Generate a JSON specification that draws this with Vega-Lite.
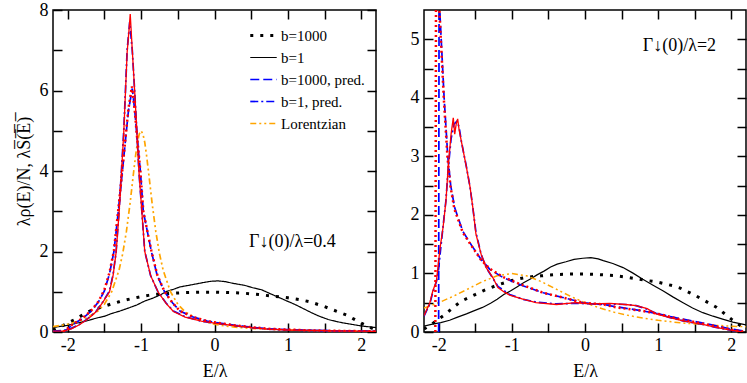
{
 "$schema": "https://vega.github.io/schema/vega-lite/v6.json",
 "padding": {"left": 14, "top": 0, "right": 4, "bottom": 0},
 "spacing": 29,
 "config": {
  "view": {"stroke": "black", "strokeWidth": 1.5},
  "axis": {"domain": false, "grid": false, "tickColor": "black", "tickWidth": 1.5, "tickSize": -9, "labelFont": "Liberation Serif", "titleFont": "Liberation Serif", "labelFontSize": 18, "labelColor": "black", "titleFontSize": 18, "titleFontWeight": "normal", "titleColor": "black", "labelPadding": 14, "labelOverlap": false, "zindex": 1},
  "legend": {"rowPadding": 6, "labelFont": "Liberation Serif"}
 },
 "datasets": {
  "left": [
   {"s":"b=1000","E":-2.2,"v":0.05},{"s":"b=1000","E":-2.1,"v":0.13},{"s":"b=1000","E":-2.0,"v":0.22},{"s":"b=1000","E":-1.9,"v":0.31},{"s":"b=1000","E":-1.8,"v":0.42},{"s":"b=1000","E":-1.7,"v":0.52},{"s":"b=1000","E":-1.6,"v":0.58},{"s":"b=1000","E":-1.5,"v":0.64},{"s":"b=1000","E":-1.4,"v":0.7},{"s":"b=1000","E":-1.3,"v":0.75},{"s":"b=1000","E":-1.2,"v":0.8},{"s":"b=1000","E":-1.1,"v":0.84},{"s":"b=1000","E":-1.0,"v":0.88},{"s":"b=1000","E":-0.9,"v":0.91},{"s":"b=1000","E":-0.8,"v":0.935},{"s":"b=1000","E":-0.6,"v":0.96},{"s":"b=1000","E":-0.4,"v":0.98},{"s":"b=1000","E":-0.2,"v":0.99},{"s":"b=1000","E":0.0,"v":0.99},{"s":"b=1000","E":0.2,"v":0.98},{"s":"b=1000","E":0.4,"v":0.965},{"s":"b=1000","E":0.6,"v":0.93},{"s":"b=1000","E":0.8,"v":0.89},{"s":"b=1000","E":1.0,"v":0.85},{"s":"b=1000","E":1.2,"v":0.79},{"s":"b=1000","E":1.3,"v":0.75},{"s":"b=1000","E":1.4,"v":0.69},{"s":"b=1000","E":1.5,"v":0.63},{"s":"b=1000","E":1.6,"v":0.56},{"s":"b=1000","E":1.7,"v":0.49},{"s":"b=1000","E":1.8,"v":0.42},{"s":"b=1000","E":1.9,"v":0.32},{"s":"b=1000","E":2.0,"v":0.22},{"s":"b=1000","E":2.1,"v":0.13},{"s":"b=1000","E":2.2,"v":0.05},
   {"s":"b=1","E":-2.2,"v":0.11},{"s":"b=1","E":-2.1,"v":0.14},{"s":"b=1","E":-2.0,"v":0.165},{"s":"b=1","E":-1.9,"v":0.21},{"s":"b=1","E":-1.75,"v":0.27},{"s":"b=1","E":-1.6,"v":0.35},{"s":"b=1","E":-1.5,"v":0.39},{"s":"b=1","E":-1.4,"v":0.46},{"s":"b=1","E":-1.29,"v":0.52},{"s":"b=1","E":-1.15,"v":0.61},{"s":"b=1","E":-1.06,"v":0.67},{"s":"b=1","E":-0.95,"v":0.77},{"s":"b=1","E":-0.84,"v":0.84},{"s":"b=1","E":-0.74,"v":0.92},{"s":"b=1","E":-0.65,"v":1.01},{"s":"b=1","E":-0.56,"v":1.06},{"s":"b=1","E":-0.47,"v":1.12},{"s":"b=1","E":-0.38,"v":1.15},{"s":"b=1","E":-0.29,"v":1.18},{"s":"b=1","E":-0.15,"v":1.23},{"s":"b=1","E":-0.05,"v":1.26},{"s":"b=1","E":0.05,"v":1.27},{"s":"b=1","E":0.15,"v":1.25},{"s":"b=1","E":0.25,"v":1.21},{"s":"b=1","E":0.41,"v":1.16},{"s":"b=1","E":0.52,"v":1.1},{"s":"b=1","E":0.64,"v":1.05},{"s":"b=1","E":0.75,"v":0.96},{"s":"b=1","E":0.85,"v":0.88},{"s":"b=1","E":1.0,"v":0.76},{"s":"b=1","E":1.09,"v":0.69},{"s":"b=1","E":1.2,"v":0.59},{"s":"b=1","E":1.32,"v":0.48},{"s":"b=1","E":1.43,"v":0.39},{"s":"b=1","E":1.55,"v":0.31},{"s":"b=1","E":1.66,"v":0.26},{"s":"b=1","E":1.77,"v":0.22},{"s":"b=1","E":1.9,"v":0.18},{"s":"b=1","E":2.0,"v":0.15},{"s":"b=1","E":2.1,"v":0.13},{"s":"b=1","E":2.2,"v":0.11},
   {"s":"Lorentzian","E":-2.2,"v":0.135},{"s":"Lorentzian","E":-2.0,"v":0.192},{"s":"Lorentzian","E":-1.8,"v":0.294},{"s":"Lorentzian","E":-1.6,"v":0.5},{"s":"Lorentzian","E":-1.5,"v":0.69},{"s":"Lorentzian","E":-1.4,"v":1.0},{"s":"Lorentzian","E":-1.3,"v":1.54},{"s":"Lorentzian","E":-1.25,"v":1.95},{"s":"Lorentzian","E":-1.2,"v":2.5},{"s":"Lorentzian","E":-1.15,"v":3.2},{"s":"Lorentzian","E":-1.1,"v":4.0},{"s":"Lorentzian","E":-1.075,"v":4.38},{"s":"Lorentzian","E":-1.05,"v":4.71},{"s":"Lorentzian","E":-1.025,"v":4.92},{"s":"Lorentzian","E":-1.0,"v":5.0},{"s":"Lorentzian","E":-0.975,"v":4.92},{"s":"Lorentzian","E":-0.95,"v":4.71},{"s":"Lorentzian","E":-0.925,"v":4.38},{"s":"Lorentzian","E":-0.9,"v":4.0},{"s":"Lorentzian","E":-0.85,"v":3.2},{"s":"Lorentzian","E":-0.8,"v":2.5},{"s":"Lorentzian","E":-0.75,"v":1.95},{"s":"Lorentzian","E":-0.7,"v":1.54},{"s":"Lorentzian","E":-0.6,"v":1.0},{"s":"Lorentzian","E":-0.5,"v":0.69},{"s":"Lorentzian","E":-0.4,"v":0.5},{"s":"Lorentzian","E":-0.2,"v":0.294},{"s":"Lorentzian","E":0.0,"v":0.192},{"s":"Lorentzian","E":0.2,"v":0.135},{"s":"Lorentzian","E":0.5,"v":0.087},{"s":"Lorentzian","E":1.0,"v":0.05},{"s":"Lorentzian","E":1.5,"v":0.032},{"s":"Lorentzian","E":2.0,"v":0.022},{"s":"Lorentzian","E":2.2,"v":0.019},
   {"s":"b=1000, pred.","E":-2.05,"v":0.0},{"s":"b=1000, pred.","E":-1.93,"v":0.19},{"s":"b=1000, pred.","E":-1.8,"v":0.33},{"s":"b=1000, pred.","E":-1.68,"v":0.52},{"s":"b=1000, pred.","E":-1.58,"v":0.75},{"s":"b=1000, pred.","E":-1.5,"v":1.02},{"s":"b=1000, pred.","E":-1.43,"v":1.45},{"s":"b=1000, pred.","E":-1.37,"v":2.0},{"s":"b=1000, pred.","E":-1.31,"v":3.0},{"s":"b=1000, pred.","E":-1.254,"v":4.0},{"s":"b=1000, pred.","E":-1.2,"v":5.0},{"s":"b=1000, pred.","E":-1.172,"v":5.5},{"s":"b=1000, pred.","E":-1.12,"v":6.05},{"s":"b=1000, pred.","E":-1.086,"v":5.5},{"s":"b=1000, pred.","E":-1.063,"v":5.0},{"s":"b=1000, pred.","E":-1.01,"v":4.0},{"s":"b=1000, pred.","E":-0.97,"v":3.0},{"s":"b=1000, pred.","E":-0.86,"v":2.0},{"s":"b=1000, pred.","E":-0.78,"v":1.4},{"s":"b=1000, pred.","E":-0.68,"v":1.0},{"s":"b=1000, pred.","E":-0.57,"v":0.72},{"s":"b=1000, pred.","E":-0.47,"v":0.52},{"s":"b=1000, pred.","E":-0.3,"v":0.38},{"s":"b=1000, pred.","E":-0.1,"v":0.27},{"s":"b=1000, pred.","E":0.0,"v":0.24},{"s":"b=1000, pred.","E":0.3,"v":0.16},{"s":"b=1000, pred.","E":0.5,"v":0.12},{"s":"b=1000, pred.","E":0.73,"v":0.08},{"s":"b=1000, pred.","E":1.0,"v":0.06},{"s":"b=1000, pred.","E":1.3,"v":0.04},{"s":"b=1000, pred.","E":1.63,"v":0.03},{"s":"b=1000, pred.","E":2.0,"v":0.02},{"s":"b=1000, pred.","E":2.2,"v":0.015},
   {"s":"b=1, pred.","E":-2.2,"v":0.02},{"s":"b=1, pred.","E":-2.05,"v":0.04},{"s":"b=1, pred.","E":-1.95,"v":0.09},{"s":"b=1, pred.","E":-1.84,"v":0.19},{"s":"b=1, pred.","E":-1.75,"v":0.3},{"s":"b=1, pred.","E":-1.68,"v":0.4},{"s":"b=1, pred.","E":-1.61,"v":0.52},{"s":"b=1, pred.","E":-1.52,"v":0.75},{"s":"b=1, pred.","E":-1.43,"v":1.02},{"s":"b=1, pred.","E":-1.38,"v":1.45},{"s":"b=1, pred.","E":-1.34,"v":2.0},{"s":"b=1, pred.","E":-1.3,"v":3.0},{"s":"b=1, pred.","E":-1.268,"v":4.0},{"s":"b=1, pred.","E":-1.236,"v":5.0},{"s":"b=1, pred.","E":-1.213,"v":6.0},{"s":"b=1, pred.","E":-1.19,"v":7.0},{"s":"b=1, pred.","E":-1.155,"v":7.7},{"s":"b=1, pred.","E":-1.12,"v":7.0},{"s":"b=1, pred.","E":-1.088,"v":6.0},{"s":"b=1, pred.","E":-1.058,"v":5.0},{"s":"b=1, pred.","E":-1.03,"v":4.0},{"s":"b=1, pred.","E":-0.99,"v":3.0},{"s":"b=1, pred.","E":-0.95,"v":2.0},{"s":"b=1, pred.","E":-0.87,"v":1.4},{"s":"b=1, pred.","E":-0.77,"v":1.0},{"s":"b=1, pred.","E":-0.66,"v":0.72},{"s":"b=1, pred.","E":-0.56,"v":0.52},{"s":"b=1, pred.","E":-0.4,"v":0.38},{"s":"b=1, pred.","E":-0.18,"v":0.27},{"s":"b=1, pred.","E":0.0,"v":0.22},{"s":"b=1, pred.","E":0.3,"v":0.15},{"s":"b=1, pred.","E":0.5,"v":0.11},{"s":"b=1, pred.","E":0.73,"v":0.07},{"s":"b=1, pred.","E":1.0,"v":0.05},{"s":"b=1, pred.","E":1.3,"v":0.04},{"s":"b=1, pred.","E":1.63,"v":0.03},{"s":"b=1, pred.","E":2.0,"v":0.02},{"s":"b=1, pred.","E":2.2,"v":0.015},
   {"s":"r1000","E":-2.06,"v":0.0},{"s":"r1000","E":-1.94,"v":0.18},{"s":"r1000","E":-1.8,"v":0.34},{"s":"r1000","E":-1.68,"v":0.53},{"s":"r1000","E":-1.58,"v":0.76},{"s":"r1000","E":-1.5,"v":1.05},{"s":"r1000","E":-1.43,"v":1.48},{"s":"r1000","E":-1.37,"v":2.02},{"s":"r1000","E":-1.31,"v":3.05},{"s":"r1000","E":-1.254,"v":4.05},{"s":"r1000","E":-1.2,"v":5.05},{"s":"r1000","E":-1.172,"v":5.55},{"s":"r1000","E":-1.125,"v":6.1},{"s":"r1000","E":-1.086,"v":5.5},{"s":"r1000","E":-1.063,"v":5.0},{"s":"r1000","E":-1.01,"v":4.0},{"s":"r1000","E":-0.97,"v":3.0},{"s":"r1000","E":-0.86,"v":2.02},{"s":"r1000","E":-0.78,"v":1.42},{"s":"r1000","E":-0.68,"v":1.0},{"s":"r1000","E":-0.57,"v":0.72},{"s":"r1000","E":-0.47,"v":0.52},{"s":"r1000","E":-0.3,"v":0.38},{"s":"r1000","E":-0.1,"v":0.27},{"s":"r1000","E":0.0,"v":0.24},{"s":"r1000","E":0.3,"v":0.16},{"s":"r1000","E":0.5,"v":0.12},{"s":"r1000","E":0.73,"v":0.08},{"s":"r1000","E":1.0,"v":0.06},{"s":"r1000","E":1.3,"v":0.04},{"s":"r1000","E":1.63,"v":0.03},{"s":"r1000","E":2.0,"v":0.02},{"s":"r1000","E":2.2,"v":0.015},
   {"s":"r1","E":-2.2,"v":0.02},{"s":"r1","E":-2.05,"v":0.03},{"s":"r1","E":-1.95,"v":0.08},{"s":"r1","E":-1.84,"v":0.18},{"s":"r1","E":-1.75,"v":0.29},{"s":"r1","E":-1.68,"v":0.39},{"s":"r1","E":-1.61,"v":0.51},{"s":"r1","E":-1.52,"v":0.74},{"s":"r1","E":-1.43,"v":1.0},{"s":"r1","E":-1.38,"v":1.42},{"s":"r1","E":-1.34,"v":1.98},{"s":"r1","E":-1.3,"v":2.95},{"s":"r1","E":-1.268,"v":3.95},{"s":"r1","E":-1.236,"v":4.95},{"s":"r1","E":-1.213,"v":5.95},{"s":"r1","E":-1.19,"v":6.95},{"s":"r1","E":-1.16,"v":7.6},{"s":"r1","E":-1.148,"v":7.9},{"s":"r1","E":-1.12,"v":7.0},{"s":"r1","E":-1.088,"v":6.0},{"s":"r1","E":-1.058,"v":5.0},{"s":"r1","E":-1.03,"v":4.0},{"s":"r1","E":-0.99,"v":3.0},{"s":"r1","E":-0.95,"v":2.0},{"s":"r1","E":-0.87,"v":1.4},{"s":"r1","E":-0.77,"v":1.0},{"s":"r1","E":-0.66,"v":0.71},{"s":"r1","E":-0.56,"v":0.51},{"s":"r1","E":-0.4,"v":0.37},{"s":"r1","E":-0.18,"v":0.27},{"s":"r1","E":0.0,"v":0.22},{"s":"r1","E":0.3,"v":0.15},{"s":"r1","E":0.5,"v":0.11},{"s":"r1","E":0.73,"v":0.07},{"s":"r1","E":1.0,"v":0.05},{"s":"r1","E":1.3,"v":0.04},{"s":"r1","E":1.63,"v":0.03},{"s":"r1","E":2.0,"v":0.02},{"s":"r1","E":2.2,"v":0.015}
  ],
  "right": [
   {"s":"b1000","E":-2.2,"v":0.05},{"s":"b1000","E":-2.1,"v":0.13},{"s":"b1000","E":-2.0,"v":0.22},{"s":"b1000","E":-1.9,"v":0.31},{"s":"b1000","E":-1.8,"v":0.42},{"s":"b1000","E":-1.7,"v":0.52},{"s":"b1000","E":-1.6,"v":0.58},{"s":"b1000","E":-1.5,"v":0.64},{"s":"b1000","E":-1.4,"v":0.7},{"s":"b1000","E":-1.3,"v":0.75},{"s":"b1000","E":-1.2,"v":0.8},{"s":"b1000","E":-1.1,"v":0.84},{"s":"b1000","E":-1.0,"v":0.88},{"s":"b1000","E":-0.9,"v":0.91},{"s":"b1000","E":-0.8,"v":0.935},{"s":"b1000","E":-0.6,"v":0.96},{"s":"b1000","E":-0.4,"v":0.98},{"s":"b1000","E":-0.2,"v":0.99},{"s":"b1000","E":0.0,"v":0.99},{"s":"b1000","E":0.2,"v":0.98},{"s":"b1000","E":0.4,"v":0.965},{"s":"b1000","E":0.6,"v":0.93},{"s":"b1000","E":0.8,"v":0.89},{"s":"b1000","E":1.0,"v":0.85},{"s":"b1000","E":1.2,"v":0.79},{"s":"b1000","E":1.3,"v":0.75},{"s":"b1000","E":1.4,"v":0.69},{"s":"b1000","E":1.5,"v":0.63},{"s":"b1000","E":1.6,"v":0.56},{"s":"b1000","E":1.7,"v":0.49},{"s":"b1000","E":1.8,"v":0.42},{"s":"b1000","E":1.9,"v":0.32},{"s":"b1000","E":2.0,"v":0.22},{"s":"b1000","E":2.1,"v":0.13},{"s":"b1000","E":2.2,"v":0.05},
   {"s":"b1","E":-2.2,"v":0.1},{"s":"b1","E":-2.1,"v":0.13},{"s":"b1","E":-1.97,"v":0.16},{"s":"b1","E":-1.85,"v":0.2},{"s":"b1","E":-1.75,"v":0.25},{"s":"b1","E":-1.62,"v":0.31},{"s":"b1","E":-1.52,"v":0.36},{"s":"b1","E":-1.4,"v":0.42},{"s":"b1","E":-1.29,"v":0.49},{"s":"b1","E":-1.2,"v":0.56},{"s":"b1","E":-1.11,"v":0.64},{"s":"b1","E":-1.02,"v":0.7},{"s":"b1","E":-0.93,"v":0.77},{"s":"b1","E":-0.84,"v":0.84},{"s":"b1","E":-0.74,"v":0.91},{"s":"b1","E":-0.65,"v":0.98},{"s":"b1","E":-0.56,"v":1.04},{"s":"b1","E":-0.47,"v":1.11},{"s":"b1","E":-0.38,"v":1.16},{"s":"b1","E":-0.26,"v":1.2},{"s":"b1","E":-0.15,"v":1.24},{"s":"b1","E":-0.03,"v":1.26},{"s":"b1","E":0.08,"v":1.27},{"s":"b1","E":0.18,"v":1.25},{"s":"b1","E":0.25,"v":1.22},{"s":"b1","E":0.38,"v":1.17},{"s":"b1","E":0.52,"v":1.1},{"s":"b1","E":0.65,"v":1.01},{"s":"b1","E":0.79,"v":0.9},{"s":"b1","E":0.93,"v":0.8},{"s":"b1","E":1.07,"v":0.7},{"s":"b1","E":1.2,"v":0.6},{"s":"b1","E":1.34,"v":0.5},{"s":"b1","E":1.47,"v":0.41},{"s":"b1","E":1.61,"v":0.33},{"s":"b1","E":1.75,"v":0.27},{"s":"b1","E":1.88,"v":0.22},{"s":"b1","E":2.02,"v":0.17},{"s":"b1","E":2.2,"v":0.12},
   {"s":"lor","E":-2.2,"v":0.41},{"s":"lor","E":-2.0,"v":0.5},{"s":"lor","E":-1.8,"v":0.61},{"s":"lor","E":-1.6,"v":0.735},{"s":"lor","E":-1.4,"v":0.862},{"s":"lor","E":-1.2,"v":0.96},{"s":"lor","E":-1.0,"v":1.0},{"s":"lor","E":-0.8,"v":0.96},{"s":"lor","E":-0.6,"v":0.862},{"s":"lor","E":-0.4,"v":0.735},{"s":"lor","E":-0.2,"v":0.61},{"s":"lor","E":0.0,"v":0.5},{"s":"lor","E":0.2,"v":0.41},{"s":"lor","E":0.4,"v":0.338},{"s":"lor","E":0.6,"v":0.281},{"s":"lor","E":0.8,"v":0.236},{"s":"lor","E":1.0,"v":0.2},{"s":"lor","E":1.2,"v":0.171},{"s":"lor","E":1.4,"v":0.148},{"s":"lor","E":1.6,"v":0.129},{"s":"lor","E":1.8,"v":0.113},{"s":"lor","E":2.0,"v":0.1},{"s":"lor","E":2.2,"v":0.089},
   {"s":"p1000","E":-2.0,"v":0.0},{"s":"p1000","E":-1.997,"v":3.0},{"s":"p1000","E":-1.993,"v":6.5},{"s":"p1000","E":-1.985,"v":5.5},{"s":"p1000","E":-1.965,"v":5.0},{"s":"p1000","E":-1.925,"v":4.0},{"s":"p1000","E":-1.875,"v":3.0},{"s":"p1000","E":-1.835,"v":2.5},{"s":"p1000","E":-1.78,"v":2.12},{"s":"p1000","E":-1.67,"v":1.72},{"s":"p1000","E":-1.55,"v":1.48},{"s":"p1000","E":-1.42,"v":1.24},{"s":"p1000","E":-1.3,"v":1.07},{"s":"p1000","E":-1.12,"v":0.93},{"s":"p1000","E":-0.85,"v":0.79},{"s":"p1000","E":-0.57,"v":0.67},{"s":"p1000","E":-0.21,"v":0.56},{"s":"p1000","E":-0.03,"v":0.5},{"s":"p1000","E":0.25,"v":0.47},{"s":"p1000","E":0.43,"v":0.43},{"s":"p1000","E":0.79,"v":0.36},{"s":"p1000","E":1.0,"v":0.31},{"s":"p1000","E":1.25,"v":0.24},{"s":"p1000","E":1.5,"v":0.18},{"s":"p1000","E":1.7,"v":0.13},{"s":"p1000","E":2.0,"v":0.05},{"s":"p1000","E":2.16,"v":0.02},{"s":"p1000","E":2.2,"v":0.015},
   {"s":"p1","E":-2.2,"v":0.27},{"s":"p1","E":-2.12,"v":0.48},{"s":"p1","E":-2.08,"v":0.68},{"s":"p1","E":-2.03,"v":0.86},{"s":"p1","E":-2.0,"v":1.08},{"s":"p1","E":-1.97,"v":1.45},{"s":"p1","E":-1.94,"v":1.8},{"s":"p1","E":-1.9,"v":2.25},{"s":"p1","E":-1.87,"v":2.78},{"s":"p1","E":-1.83,"v":3.3},{"s":"p1","E":-1.79,"v":3.55},{"s":"p1","E":-1.75,"v":3.6},{"s":"p1","E":-1.72,"v":3.5},{"s":"p1","E":-1.69,"v":3.26},{"s":"p1","E":-1.62,"v":2.82},{"s":"p1","E":-1.57,"v":2.47},{"s":"p1","E":-1.53,"v":2.1},{"s":"p1","E":-1.49,"v":1.7},{"s":"p1","E":-1.42,"v":1.33},{"s":"p1","E":-1.35,"v":1.1},{"s":"p1","E":-1.26,"v":0.92},{"s":"p1","E":-1.19,"v":0.78},{"s":"p1","E":-1.03,"v":0.64},{"s":"p1","E":-0.85,"v":0.56},{"s":"p1","E":-0.67,"v":0.51},{"s":"p1","E":-0.39,"v":0.48},{"s":"p1","E":-0.12,"v":0.49},{"s":"p1","E":0.1,"v":0.48},{"s":"p1","E":0.34,"v":0.48},{"s":"p1","E":0.55,"v":0.47},{"s":"p1","E":0.7,"v":0.45},{"s":"p1","E":0.85,"v":0.39},{"s":"p1","E":0.97,"v":0.32},{"s":"p1","E":1.15,"v":0.25},{"s":"p1","E":1.34,"v":0.19},{"s":"p1","E":1.61,"v":0.13},{"s":"p1","E":1.79,"v":0.08},{"s":"p1","E":1.95,"v":0.04},{"s":"p1","E":2.16,"v":0.0},
   {"s":"r1000","E":-2.045,"v":0.0},{"s":"r1000","E":-2.04,"v":3.0},{"s":"r1000","E":-2.035,"v":6.5},{"s":"r1000","E":-1.99,"v":5.5},{"s":"r1000","E":-1.97,"v":5.0},{"s":"r1000","E":-1.93,"v":4.0},{"s":"r1000","E":-1.88,"v":3.0},{"s":"r1000","E":-1.84,"v":2.5},{"s":"r1000","E":-1.785,"v":2.1},{"s":"r1000","E":-1.67,"v":1.7},{"s":"r1000","E":-1.55,"v":1.47},{"s":"r1000","E":-1.42,"v":1.23},{"s":"r1000","E":-1.3,"v":1.08},{"s":"r1000","E":-1.12,"v":0.94},{"s":"r1000","E":-0.85,"v":0.8},{"s":"r1000","E":-0.57,"v":0.67},{"s":"r1000","E":-0.21,"v":0.56},{"s":"r1000","E":-0.03,"v":0.5},{"s":"r1000","E":0.25,"v":0.47},{"s":"r1000","E":0.43,"v":0.42},{"s":"r1000","E":0.79,"v":0.36},{"s":"r1000","E":1.0,"v":0.31},{"s":"r1000","E":1.25,"v":0.23},{"s":"r1000","E":1.5,"v":0.17},{"s":"r1000","E":1.7,"v":0.12},{"s":"r1000","E":2.0,"v":0.04},{"s":"r1000","E":2.16,"v":0.01},{"s":"r1000","E":2.2,"v":0.01},
   {"s":"r1","E":-2.2,"v":0.28},{"s":"r1","E":-2.12,"v":0.5},{"s":"r1","E":-2.08,"v":0.7},{"s":"r1","E":-2.03,"v":0.87},{"s":"r1","E":-2.01,"v":1.1},{"s":"r1","E":-1.98,"v":1.44},{"s":"r1","E":-1.94,"v":1.78},{"s":"r1","E":-1.9,"v":2.24},{"s":"r1","E":-1.87,"v":2.81},{"s":"r1","E":-1.83,"v":3.38},{"s":"r1","E":-1.8,"v":3.66},{"s":"r1","E":-1.78,"v":3.38},{"s":"r1","E":-1.76,"v":3.55},{"s":"r1","E":-1.74,"v":3.64},{"s":"r1","E":-1.72,"v":3.45},{"s":"r1","E":-1.69,"v":3.26},{"s":"r1","E":-1.62,"v":2.81},{"s":"r1","E":-1.57,"v":2.47},{"s":"r1","E":-1.53,"v":2.1},{"s":"r1","E":-1.49,"v":1.67},{"s":"r1","E":-1.42,"v":1.33},{"s":"r1","E":-1.35,"v":1.1},{"s":"r1","E":-1.26,"v":0.93},{"s":"r1","E":-1.19,"v":0.76},{"s":"r1","E":-1.1,"v":0.68},{"s":"r1","E":-1.03,"v":0.63},{"s":"r1","E":-0.85,"v":0.56},{"s":"r1","E":-0.67,"v":0.5},{"s":"r1","E":-0.39,"v":0.47},{"s":"r1","E":-0.12,"v":0.5},{"s":"r1","E":0.1,"v":0.48},{"s":"r1","E":0.34,"v":0.49},{"s":"r1","E":0.55,"v":0.47},{"s":"r1","E":0.7,"v":0.45},{"s":"r1","E":0.85,"v":0.4},{"s":"r1","E":0.97,"v":0.31},{"s":"r1","E":1.15,"v":0.25},{"s":"r1","E":1.34,"v":0.19},{"s":"r1","E":1.61,"v":0.13},{"s":"r1","E":1.79,"v":0.08},{"s":"r1","E":1.95,"v":0.04},{"s":"r1","E":2.16,"v":0.0}
  ]
 },
 "hconcat": [
  {
   "width": 323, "height": 322,
   "data": {"name": "left"},
   "layer": [
    {
     "transform": [{"filter": {"field": "s", "oneOf": ["b=1000", "b=1", "Lorentzian", "b=1000, pred.", "b=1, pred."]}}],
     "mark": {"type": "line", "clip": true},
     "encoding": {
      "x": {"field": "E", "type": "quantitative", "scale": {"domain": [-2.2, 2.2], "nice": false, "zero": false},
            "axis": {"orient": "bottom", "values": [-2, -1.5, -1, -0.5, 0, 0.5, 1, 1.5, 2], "labelExpr": "datum.value % 1 == 0 ? '' + datum.value : ''", "labelPadding": 13, "title": "E/λ", "titlePadding": 8}},
      "y": {"field": "v", "type": "quantitative", "scale": {"domain": [0, 8], "nice": false},
            "axis": {"orient": "left", "values": [0, 1, 2, 3, 4, 5, 6, 7, 8], "labelExpr": "datum.value % 2 == 0 ? '' + datum.value : ''", "title": "λρ(E)/N, λS\u0305(\u0305E\u0305)\u0305", "titlePadding": 6}},
      "color": {"field": "s", "type": "nominal",
                "scale": {"domain": ["b=1000", "b=1", "b=1000, pred.", "b=1, pred.", "Lorentzian"], "range": ["black", "black", "#0000ff", "#0000ff", "#ffa500"]},
                "legend": {"orient": "none", "legendX": 203, "legendY": 18, "title": null, "labelFontSize": 15, "labelColor": "black", "symbolType": "stroke", "symbolSize": 700, "labelOffset": 10,
                           "encode": {"symbols": {"update": {"strokeWidth": {"signal": "datum.value == 'b=1000' ? 3 : datum.value == 'b=1' ? 1.2 : 1.7"}}}, "labels": {"update": {"font": {"value": "Liberation Serif"}}}}}},
      "strokeDash": {"field": "s", "type": "nominal",
                "scale": {"domain": ["b=1000", "b=1", "b=1000, pred.", "b=1, pred.", "Lorentzian"], "range": [[3, 7], [1, 0], [9, 4], [8, 3, 2, 3], [6, 3, 2, 3, 2, 3]]},
                "legend": {"orient": "none", "legendX": 203, "legendY": 18, "title": null, "labelFontSize": 15, "labelColor": "black", "symbolType": "stroke", "symbolSize": 700, "labelOffset": 10,
                           "encode": {"symbols": {"update": {"strokeWidth": {"signal": "datum.value == 'b=1000' ? 3 : datum.value == 'b=1' ? 1.2 : 1.7"}}}, "labels": {"update": {"font": {"value": "Liberation Serif"}}}}}},
      "strokeWidth": {"condition": [{"test": "datum.s == 'b=1000'", "value": 3}, {"test": "datum.s == 'b=1'", "value": 1.2}], "value": 1.7}
     }
    },
    {
     "transform": [{"filter": "datum.s == 'r1000'"}],
     "mark": {"type": "line", "clip": true, "color": "#ff0000", "strokeDash": [2, 3], "strokeWidth": 2.5},
     "encoding": {"x": {"field": "E", "type": "quantitative", "axis": null}, "y": {"field": "v", "type": "quantitative", "axis": null}}
    },
    {
     "transform": [{"filter": "datum.s == 'r1'"}],
     "mark": {"type": "line", "clip": true, "color": "#ff0000", "strokeWidth": 1.3},
     "encoding": {"x": {"field": "E", "type": "quantitative", "axis": null}, "y": {"field": "v", "type": "quantitative", "axis": null}}
    },
    {
     "data": {"values": [{"E": 0.47, "v": 2.24, "t": "Γ↓(0)/λ=0.4"}]},
     "mark": {"type": "text", "align": "left", "baseline": "middle", "fontSize": 18, "font": "Liberation Serif", "color": "black"},
     "encoding": {"x": {"field": "E", "type": "quantitative", "axis": null}, "y": {"field": "v", "type": "quantitative", "axis": null}, "text": {"field": "t"}}
    },
    {
     "transform": [{"filter": "datum.s == 'b=1'"}],
     "mark": {"type": "point", "opacity": 0},
     "encoding": {
      "x": {"field": "E", "type": "quantitative", "axis": {"orient": "top", "values": [-2, -1.5, -1, -0.5, 0, 0.5, 1, 1.5, 2], "labels": false, "title": null}},
      "y": {"field": "v", "type": "quantitative", "axis": {"orient": "right", "values": [0, 1, 2, 3, 4, 5, 6, 7, 8], "labels": false, "title": null}}
     }
    }
   ],
   "resolve": {"axis": {"x": "independent", "y": "independent"}}
  },
  {
   "width": 322, "height": 322,
   "data": {"name": "right"},
   "layer": [
    {
     "transform": [{"filter": "datum.s == 'b1000'"}],
     "mark": {"type": "line", "clip": true, "color": "black", "strokeDash": [3, 7], "strokeWidth": 3},
     "encoding": {
      "x": {"field": "E", "type": "quantitative", "scale": {"domain": [-2.2, 2.2], "nice": false, "zero": false},
            "axis": {"orient": "bottom", "values": [-2, -1.5, -1, -0.5, 0, 0.5, 1, 1.5, 2], "labelExpr": "datum.value % 1 == 0 ? '' + datum.value : ''", "labelPadding": 13, "title": "E/λ", "titlePadding": 8}},
      "y": {"field": "v", "type": "quantitative", "scale": {"domain": [0, 5.5], "nice": false},
            "axis": {"orient": "left", "values": [0, 0.5, 1, 1.5, 2, 2.5, 3, 3.5, 4, 4.5, 5], "labelExpr": "datum.value % 1 == 0 ? '' + datum.value : ''", "title": null}}
     }
    },
    {
     "transform": [{"filter": "datum.s == 'b1'"}],
     "mark": {"type": "line", "clip": true, "color": "black", "strokeWidth": 1.2},
     "encoding": {"x": {"field": "E", "type": "quantitative", "axis": null}, "y": {"field": "v", "type": "quantitative", "axis": null}}
    },
    {
     "transform": [{"filter": "datum.s == 'lor'"}],
     "mark": {"type": "line", "clip": true, "color": "#ffa500", "strokeDash": [6, 3, 2, 3, 2, 3], "strokeWidth": 1.5},
     "encoding": {"x": {"field": "E", "type": "quantitative", "axis": null}, "y": {"field": "v", "type": "quantitative", "axis": null}}
    },
    {
     "transform": [{"filter": "datum.s == 'p1000'"}],
     "mark": {"type": "line", "clip": true, "color": "#0000ff", "strokeDash": [9, 4], "strokeWidth": 1.7},
     "encoding": {"x": {"field": "E", "type": "quantitative", "axis": null}, "y": {"field": "v", "type": "quantitative", "axis": null}}
    },
    {
     "transform": [{"filter": "datum.s == 'p1'"}],
     "mark": {"type": "line", "clip": true, "color": "#0000ff", "strokeDash": [8, 3, 2, 3], "strokeWidth": 1.7},
     "encoding": {"x": {"field": "E", "type": "quantitative", "axis": null}, "y": {"field": "v", "type": "quantitative", "axis": null}}
    },
    {
     "transform": [{"filter": "datum.s == 'r1000'"}],
     "mark": {"type": "line", "clip": true, "color": "#ff0000", "strokeDash": [2, 3], "strokeWidth": 2.5},
     "encoding": {"x": {"field": "E", "type": "quantitative", "axis": null}, "y": {"field": "v", "type": "quantitative", "axis": null}}
    },
    {
     "transform": [{"filter": "datum.s == 'r1'"}],
     "mark": {"type": "line", "clip": true, "color": "#ff0000", "strokeWidth": 1.3},
     "encoding": {"x": {"field": "E", "type": "quantitative", "axis": null}, "y": {"field": "v", "type": "quantitative", "axis": null}}
    },
    {
     "data": {"values": [{"E": 0.79, "v": 4.89, "t": "Γ↓(0)/λ=2"}]},
     "mark": {"type": "text", "align": "left", "baseline": "middle", "fontSize": 18, "font": "Liberation Serif", "color": "black"},
     "encoding": {"x": {"field": "E", "type": "quantitative", "axis": null}, "y": {"field": "v", "type": "quantitative", "axis": null}, "text": {"field": "t"}}
    },
    {
     "transform": [{"filter": "datum.s == 'b1'"}],
     "mark": {"type": "point", "opacity": 0},
     "encoding": {
      "x": {"field": "E", "type": "quantitative", "axis": {"orient": "top", "values": [-2, -1.5, -1, -0.5, 0, 0.5, 1, 1.5, 2], "labels": false, "title": null}},
      "y": {"field": "v", "type": "quantitative", "axis": {"orient": "right", "values": [0, 0.5, 1, 1.5, 2, 2.5, 3, 3.5, 4, 4.5, 5], "labels": false, "title": null}}
     }
    }
   ],
   "resolve": {"axis": {"x": "independent", "y": "independent"}}
  }
 ]
}
